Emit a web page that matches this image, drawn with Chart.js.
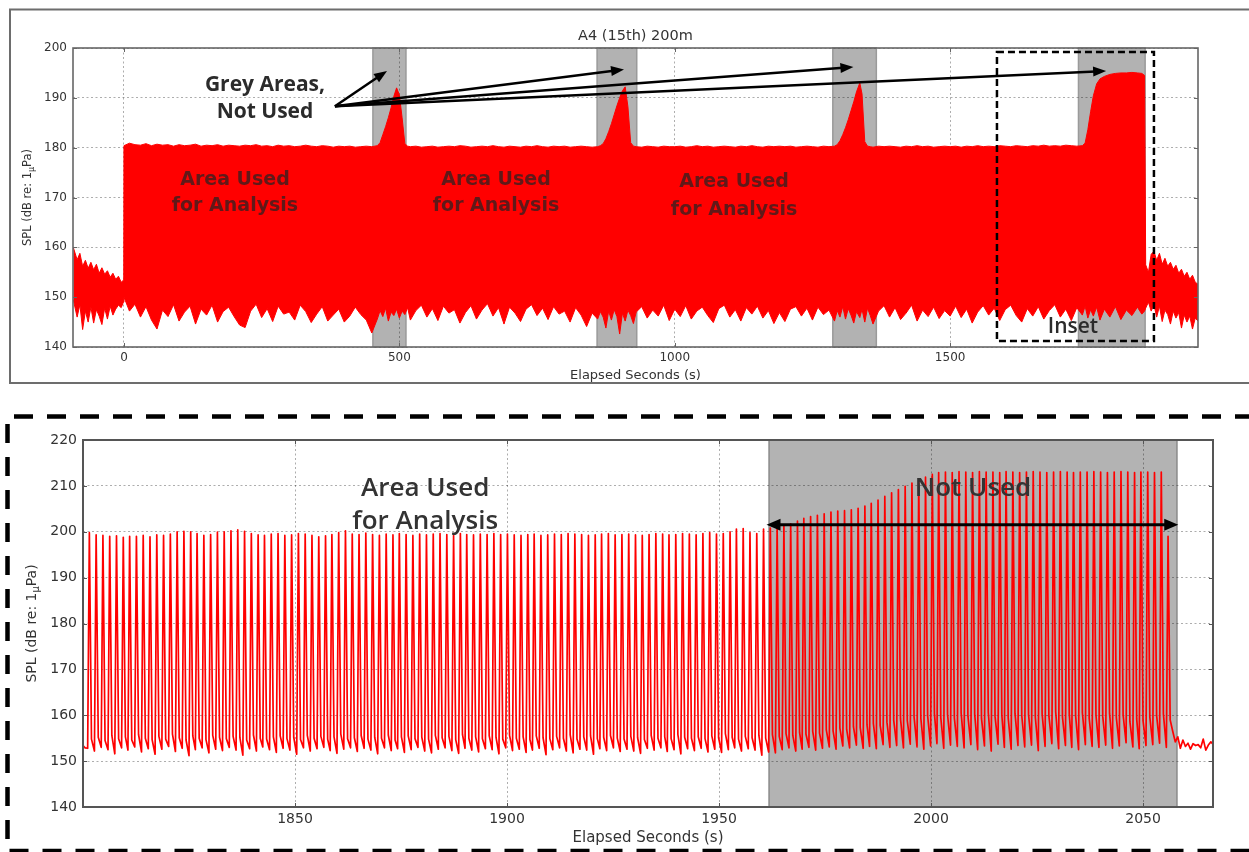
<!DOCTYPE html>
<html>
<head>
<meta charset="utf-8">
<title>A4 (15th) 200m</title>
<script src="https://cdn.jsdelivr.net/npm/chart.js@4.4.1/dist/chart.umd.min.js"></script>
<style>
  html, body { margin: 0; padding: 0; background: #fff; }
  body { width: 1249px; height: 852px; position: relative; overflow: hidden; }
  canvas { position: absolute; left: 0; }
  #overview { top: 0; }
  #detail { top: 400px; }
</style>
</head>
<body>
<canvas id="overview" width="1249" height="400"></canvas>
<canvas id="detail" width="1249" height="452"></canvas>
<script>
// ---------- Overview: SPL envelope over the whole record ----------
const ovXTicks = [0, 500, 1000, 1500];
const ovYTicks = [140, 150, 160, 170, 180, 190, 200];
const ovGreySpans = [[452, 512], [859, 931], [1287, 1366], [1733, 1854]];

const ovTime = [
  -92, -85, -80, -75, -70, -65, -60, -55, -50, -45, -40, -35, -30, -25, -20, -15, -10, -5, -1,
  0, 10, 20, 30, 40, 50, 60, 70, 80, 90,
  100, 110, 120, 130, 140, 150, 160, 170, 180, 190,
  200, 210, 220, 230, 240, 250, 260, 270, 280, 290,
  300, 310, 320, 330, 340, 350, 360, 370, 380, 390,
  400, 410, 420, 430, 440, 450,
  460, 465, 470, 475, 480, 485, 490, 495, 500, 505, 510, 515, 520,
  530, 540, 550, 560, 570, 580, 590,
  600, 610, 620, 630, 640, 650, 660, 670, 680, 690,
  700, 710, 720, 730, 740, 750, 760, 770, 780, 790,
  800, 810, 820, 830, 840, 850,
  860, 865, 870, 875, 880, 885, 890, 895, 900, 905, 910, 915, 920, 925, 930,
  940, 950, 960, 970, 980, 990,
  1000, 1010, 1020, 1030, 1040, 1050, 1060, 1070, 1080, 1090,
  1100, 1110, 1120, 1130, 1140, 1150, 1160, 1170, 1180, 1190,
  1200, 1210, 1220, 1230, 1240, 1250, 1260, 1270, 1280,
  1290, 1295, 1300, 1305, 1310, 1315, 1320, 1325, 1330, 1336, 1340, 1345, 1350, 1355,
  1360, 1370, 1380, 1390,
  1400, 1410, 1420, 1430, 1440, 1450, 1460, 1470, 1480, 1490,
  1500, 1510, 1520, 1530, 1540, 1550, 1560, 1570, 1580, 1590,
  1600, 1610, 1620, 1630, 1640, 1650, 1660, 1670, 1680, 1690,
  1700, 1710, 1720, 1730,
  1740, 1745, 1750, 1755, 1760, 1766, 1772, 1780, 1790, 1800, 1810, 1820, 1830, 1840, 1848, 1853,
  1855, 1860, 1865, 1870, 1875, 1880, 1885, 1890, 1895, 1900, 1905, 1910, 1915, 1920, 1925, 1930, 1935, 1940, 1945, 1950
];

// upper edge of the SPL trace (dB)
const ovHigh = [
  160.0, 157.5, 158.8, 156.2, 157.4, 155.8, 157.0, 155.5, 156.6, 154.8, 155.9, 154.6, 155.3, 154.0, 154.8, 153.6, 154.2, 153.0, 153.4,
  180.4, 180.9, 180.6, 180.5, 180.8, 180.4, 180.7, 180.5, 180.6, 180.3,
  180.6, 180.4, 180.5, 180.7, 180.3, 180.5, 180.4, 180.6, 180.3, 180.5,
  180.4, 180.3, 180.5, 180.4, 180.6, 180.3, 180.4, 180.2, 180.5, 180.3,
  180.4, 180.2, 180.3, 180.5, 180.3, 180.2, 180.4, 180.3, 180.1, 180.3,
  180.2, 180.3, 180.1, 180.2, 180.3, 180.2,
  180.4, 181.0, 182.6, 184.2, 186.0, 188.0, 190.3, 192.0, 190.6, 186.0, 180.8, 180.3, 180.2,
  180.3, 180.1, 180.2, 180.3, 180.1, 180.2, 180.3,
  180.2, 180.4, 180.3, 180.1, 180.2, 180.3, 180.2, 180.4, 180.2, 180.1,
  180.3, 180.2, 180.1, 180.3, 180.2, 180.4, 180.2, 180.1, 180.3, 180.2,
  180.3, 180.1, 180.2, 180.3, 180.2, 180.1,
  180.2, 180.4, 180.8, 181.8, 183.2, 184.8, 186.6, 188.4, 190.0, 191.4, 192.2, 188.2, 181.0, 180.3, 180.2,
  180.1, 180.3, 180.2, 180.1, 180.3, 180.2,
  180.2, 180.3, 180.1, 180.2, 180.4, 180.2, 180.3, 180.1, 180.2, 180.3,
  180.2, 180.1, 180.3, 180.2, 180.4, 180.2, 180.1, 180.3, 180.2, 180.3,
  180.2, 180.3, 180.1, 180.2, 180.3, 180.2, 180.1, 180.3, 180.2,
  180.3, 180.6, 181.4, 182.6, 184.0, 185.6, 187.4, 189.2, 191.2, 193.0, 190.8, 181.2, 180.3, 180.2,
  180.1, 180.3, 180.2, 180.3,
  180.2, 180.1, 180.3, 180.2, 180.4, 180.2, 180.3, 180.1, 180.2, 180.3,
  180.2, 180.3, 180.1, 180.3, 180.2, 180.4, 180.2, 180.3, 180.2, 180.4,
  180.3, 180.2, 180.4, 180.3, 180.2, 180.4, 180.3, 180.5, 180.3, 180.4,
  180.3, 180.5, 180.4, 180.3,
  180.4, 180.9, 183.6, 187.2, 190.4, 192.8, 193.8, 194.3, 194.7, 194.9, 195.0, 195.0, 195.1, 195.0, 194.9, 194.5,
  156.5, 155.0, 158.6, 159.2, 157.4, 158.8, 156.6, 157.8, 156.2, 157.0, 155.6, 156.4, 154.8, 155.6, 154.2, 155.0, 153.6, 154.4, 153.0, 152.6
];

// lower edge of the SPL trace (dB)
const ovLow = [
  149.5, 146.0, 148.5, 143.5, 147.2, 145.0, 148.0, 144.8, 147.5, 146.2, 144.5, 147.8, 145.6, 148.2, 146.4, 147.6, 148.4, 147.9, 149.0,
  150.0, 147.2, 148.6, 146.0, 148.1, 145.4, 143.6, 147.4, 146.1, 148.5,
  145.2, 147.0, 148.2, 144.6, 147.6, 146.4, 148.4, 145.0, 147.1, 148.0,
  146.1, 144.4, 143.9, 147.2, 148.6, 145.9, 147.7, 145.1, 148.2, 146.6,
  147.0, 145.4, 148.4, 147.1, 144.9, 146.6, 148.1, 145.2, 146.4, 147.6,
  145.0, 146.2, 148.0, 146.5, 145.4, 142.8,
  145.6, 147.3, 146.1, 147.8, 145.2, 147.0, 146.3, 147.6, 145.8, 147.2, 146.5, 147.9, 145.4,
  147.3, 148.4, 146.0, 147.7, 145.3, 148.2, 146.8,
  147.5, 144.8, 146.9, 148.3, 145.6, 147.4, 148.7, 146.2, 147.9, 144.6,
  148.0, 146.8, 145.1, 147.6, 148.5, 146.3, 147.8, 145.5, 148.1, 146.6,
  147.2, 145.0, 147.9, 146.4, 144.1, 146.8,
  145.6, 147.1, 146.0, 143.8, 147.2, 145.4, 147.5, 146.1, 142.6, 146.8, 145.2, 147.4, 146.3, 144.7, 147.0,
  148.1, 145.8, 147.4, 146.2, 148.4, 145.3,
  147.6, 146.1, 148.3, 145.6, 147.2, 148.0, 146.3, 144.9, 147.7, 148.4,
  146.0, 147.5, 145.2, 147.9, 146.6, 148.2, 145.8, 147.3, 144.7, 146.9,
  145.1, 147.6, 148.1, 146.2, 147.8, 145.4, 148.0, 146.5, 147.4,
  145.2, 147.3, 146.0, 148.1, 145.6, 147.7, 146.4, 144.8, 147.1, 145.9, 147.6, 145.0, 147.8, 146.3,
  144.6, 147.2, 148.3, 146.0,
  147.9, 145.5, 146.8, 148.4, 145.2, 147.4, 146.1, 148.0, 145.7, 147.3,
  146.2, 148.2, 145.9, 147.6, 144.8, 147.0, 148.3, 146.4, 147.8, 145.3,
  147.5, 148.4, 146.3, 145.0, 147.7, 146.2, 148.1, 145.6, 147.3, 148.5,
  146.0, 147.6, 145.3, 147.9,
  146.4, 148.2, 145.8, 147.5, 146.2, 148.0, 145.4, 147.6, 146.0, 148.1, 145.5, 147.4, 146.3, 148.0, 146.6, 147.2,
  147.8, 149.0, 147.2, 148.5, 146.0, 148.2, 145.1, 147.4, 146.5, 144.6, 147.2, 145.8, 146.9, 143.8, 146.4, 145.0, 146.2, 143.6, 145.8, 145.2
];

// ---------- Detail: individual pulses near the end of the record ----------
const dtXTicks = [1850, 1900, 1950, 2000, 2050];
const dtYTicks = [140, 150, 160, 170, 180, 190, 200, 210, 220];
const dtGreySpans = [[1961.8, 2058]];

const pulseTime = [
  1801.5, 1803.1, 1804.7, 1806.3, 1807.9, 1809.5, 1811.0, 1812.6, 1814.2, 1815.8,
  1817.4, 1819.0, 1820.6, 1822.2, 1823.8, 1825.4, 1826.9, 1828.5, 1830.1, 1831.7,
  1833.3, 1834.9, 1836.5, 1838.1, 1839.7, 1841.3, 1842.8, 1844.4, 1846.0, 1847.6,
  1849.2, 1850.8, 1852.4, 1854.0, 1855.6, 1857.2, 1858.7, 1860.3, 1861.9, 1863.5,
  1865.1, 1866.7, 1868.3, 1869.9, 1871.5, 1873.1, 1874.6, 1876.2, 1877.8, 1879.4,
  1881.0, 1882.6, 1884.2, 1885.8, 1887.4, 1889.0, 1890.5, 1892.1, 1893.7, 1895.3,
  1896.9, 1898.5, 1900.1, 1901.7, 1903.3, 1904.9, 1906.4, 1908.0, 1909.6, 1911.2,
  1912.8, 1914.4, 1916.0, 1917.6, 1919.2, 1920.8, 1922.3, 1923.9, 1925.5, 1927.1,
  1928.7, 1930.3, 1931.9, 1933.5, 1935.1, 1936.7, 1938.2, 1939.8, 1941.4, 1943.0,
  1944.6, 1946.2, 1947.8, 1949.4, 1951.0, 1952.6, 1954.1, 1955.7, 1957.3, 1958.9,
  1960.5, 1962.1, 1963.7, 1965.3, 1966.9, 1968.5, 1970.0, 1971.6, 1973.2, 1974.8,
  1976.4, 1978.0, 1979.6, 1981.2, 1982.8, 1984.4, 1985.9, 1987.5, 1989.1, 1990.7,
  1992.3, 1993.9, 1995.5, 1997.1, 1998.7, 2000.3, 2001.8, 2003.4, 2005.0, 2006.6,
  2008.2, 2009.8, 2011.4, 2013.0, 2014.6, 2016.2, 2017.7, 2019.3, 2020.9, 2022.5,
  2024.1, 2025.7, 2027.3, 2028.9, 2030.5, 2032.1, 2033.6, 2035.2, 2036.8, 2038.4,
  2040.0, 2041.6, 2043.2, 2044.8, 2046.4, 2048.0, 2049.5, 2051.1, 2052.7, 2054.3,
  2055.9
];

// pulse maximum (dB)
const pulsePeak = [
  199.8, 199.3, 199.2, 199.0, 199.1, 198.8, 199.0, 199.0, 199.2, 198.9,
  199.3, 199.2, 199.5, 200.0, 200.1, 200.0, 199.6, 199.2, 199.4, 199.9,
  200.0, 200.2, 200.4, 200.1, 199.6, 199.3, 199.2, 199.5, 199.6, 199.2,
  199.3, 199.6, 199.5, 199.2, 198.9, 199.1, 199.4, 199.8, 200.2, 199.5,
  199.4, 199.7, 199.4, 199.2, 199.5, 199.3, 199.6, 199.4, 199.2, 199.5,
  199.3, 199.5, 199.6, 199.4, 199.2, 199.6, 199.4, 199.3, 199.5, 199.4,
  199.6, 199.4, 199.5, 199.3, 199.2, 199.4, 199.5, 199.2, 199.3, 199.5,
  199.4, 199.6, 199.5, 199.4, 199.2, 199.3, 199.5, 199.6, 199.3, 199.4,
  199.5, 199.3, 199.2, 199.4, 199.6, 199.5, 199.3, 199.4, 199.6, 199.5,
  199.3, 199.6, 199.8, 199.5, 199.6, 200.0, 200.6, 200.7, 199.8, 199.6,
  200.6, 200.8, 201.0, 201.3, 201.7, 202.3, 202.9, 203.3, 203.6, 203.9,
  204.3, 204.5, 204.6, 204.8, 205.1, 205.6, 206.2, 206.9, 207.7, 208.5,
  209.2, 209.9, 210.6, 211.3, 211.9, 212.5, 212.9, 213.0, 212.9, 213.1,
  213.0, 212.9, 213.1, 213.0, 213.0, 212.9, 213.1, 213.0, 212.9, 213.0,
  213.1, 213.0, 212.9, 213.0, 213.1, 213.0, 212.9, 213.0, 213.0, 213.1,
  213.0, 212.9, 213.0, 213.1, 213.0, 212.9, 213.0, 213.0, 212.9, 213.0,
  199.0
];

// level just after each pulse decays (dB)
const pulseShoulder = [
  154.8, 155.2, 154.5, 155.6, 154.9, 155.3, 154.6, 155.8, 155.0, 154.7,
  155.4, 154.8, 155.9, 155.1, 154.6, 155.5, 155.0, 154.7, 155.6, 155.2,
  154.9, 155.4, 155.1, 154.6, 155.7, 155.0, 154.8, 155.3, 155.5, 154.9,
  155.2, 154.7, 155.6, 155.0, 155.4, 154.8, 155.3, 155.9, 154.9, 155.1,
  155.6, 154.8, 155.2, 155.0, 155.7, 154.6, 155.3, 155.5, 154.9, 155.2,
  154.8, 155.6, 155.1, 155.4, 154.7, 155.8, 155.0, 155.3, 154.9, 155.5,
  155.2, 154.8, 155.6, 155.0, 155.3, 154.7, 155.5, 155.1, 154.9, 155.4,
  155.0, 155.7, 154.8, 155.3, 155.5, 154.9, 155.2, 155.6, 155.0, 154.8,
  155.4, 155.1, 154.7, 155.6, 155.0, 155.3, 154.9, 155.8, 155.2, 155.0,
  155.3, 154.9, 155.5, 155.1, 156.0, 155.2, 154.8, 155.4, 155.1, 155.6,
  155.0, 155.8, 155.4, 156.0, 155.6, 156.2, 155.9, 156.5, 156.1, 156.8,
  156.6, 157.2, 156.9, 157.5, 157.3, 157.9, 158.2, 157.8, 158.5, 158.9,
  159.2, 158.8, 159.6, 159.3, 159.9, 160.3, 159.5, 160.1, 159.4, 160.5,
  159.8, 160.2, 159.3, 160.6, 159.7, 160.0, 159.4, 160.4, 159.9, 160.1,
  159.5, 160.3, 159.8, 160.7, 159.6, 160.2, 159.9, 160.5, 159.3, 160.0,
  159.7, 160.4, 159.5, 160.1, 158.6, 159.2, 158.8, 159.6, 159.9, 160.3,
  159.0
];

// minimum reached before each pulse (dB)
const pulseTrough = [
  152.8, 152.2, 153.0, 152.5, 151.6, 152.9, 152.4, 153.1, 152.0, 152.7,
  151.5, 152.6, 153.2, 152.1, 152.8, 151.2, 152.5, 152.9, 151.8, 152.6,
  152.3, 153.0, 152.4, 151.3, 152.7, 152.2, 153.1, 152.5, 151.9, 152.8,
  152.4, 151.5, 152.9, 152.2, 152.7, 153.0, 152.3, 151.7, 152.6, 152.9,
  152.1, 152.8, 152.4, 151.6, 152.9, 152.3, 152.7, 151.9, 152.5, 153.0,
  152.2, 151.8, 152.6, 152.9, 152.3, 151.7, 152.8, 152.4, 152.0, 152.7,
  152.5, 151.6, 152.9, 152.3, 152.6, 151.9, 152.4, 152.8, 151.4, 152.5,
  152.9, 152.2, 151.8, 152.6, 152.4, 151.5, 152.7, 152.3, 152.9, 152.1,
  152.6, 152.2, 151.7, 152.8, 152.4, 152.9, 152.1, 152.5, 151.6, 152.7,
  152.3, 152.8, 152.0, 152.6, 151.9, 152.5, 152.9, 152.2, 152.7, 152.4,
  151.3, 152.0, 151.8, 152.5, 152.9, 152.2, 152.6, 153.0, 152.4, 152.8,
  153.1, 152.6, 153.3, 152.9, 153.5, 152.8, 153.2, 152.7, 153.6, 153.0,
  153.4, 152.9, 153.7, 153.1, 152.6, 153.3, 153.8, 152.8, 153.5, 153.2,
  152.9, 153.6, 152.5, 153.3, 152.2, 153.7, 153.0, 152.6, 153.4, 153.1,
  153.5, 152.3, 153.2, 153.8, 152.7, 153.4, 153.0, 152.5, 153.6, 153.2,
  153.0, 153.5, 152.8, 153.3, 154.0, 153.1, 152.7, 153.4, 153.6, 153.9,
  153.0
];

// quiet segments before the first pulse and after the last one
const leadTime = [1800.0, 1800.5];
const leadLevel = [153.4, 152.9];
const tailTime = [2057.0, 2057.6, 2058.2, 2058.8, 2059.4, 2060.0, 2060.6, 2061.2, 2061.8, 2062.4, 2063.0, 2063.6, 2064.2, 2064.8, 2065.4, 2066.0, 2066.5];
const tailLevel = [156.5, 154.2, 155.3, 152.8, 154.6, 153.2, 153.9, 152.6, 153.8, 153.4, 153.6, 152.9, 154.8, 152.4, 153.5, 154.2, 153.7];

// ---------- building the point lists ----------
const ovHighPts = ovTime.map((t, i) => ({ x: t, y: ovHigh[i] }));
const ovLowPts = ovTime.map((t, i) => ({ x: t, y: ovLow[i] }));

const RISE = 0.4;    // seconds from trough to pulse top
const DECAY = 0.5;   // seconds from pulse top to shoulder
const dtPts = [];
leadTime.forEach((t, i) => dtPts.push({ x: t, y: leadLevel[i] }));
pulseTime.forEach((t, i) => {
  dtPts.push({ x: t - RISE, y: pulseTrough[i] });
  dtPts.push({ x: t, y: pulsePeak[i] });
  dtPts.push({ x: t + DECAY, y: pulseShoulder[i] });
});
tailTime.forEach((t, i) => dtPts.push({ x: t, y: tailLevel[i] }));

// ---------- shared drawing helpers ----------
const FONT = '"DejaVu Sans", sans-serif';
const RED = '#ff0000';

function arrowHead(ctx, tx, ty, ang, len, half) {
  const bx = tx - len * Math.cos(ang), by = ty - len * Math.sin(ang);
  ctx.beginPath();
  ctx.moveTo(tx, ty);
  ctx.lineTo(bx + half * Math.sin(ang), by - half * Math.cos(ang));
  ctx.lineTo(bx - half * Math.sin(ang), by + half * Math.cos(ang));
  ctx.closePath();
  ctx.fill();
}

function drawArrow(ctx, x1, y1, x2, y2, a) {
  const ang = Math.atan2(y2 - y1, x2 - x1);
  const sx = a.both ? x1 + a.head * 0.8 * Math.cos(ang) : x1;
  const sy = a.both ? y1 + a.head * 0.8 * Math.sin(ang) : y1;
  ctx.strokeStyle = '#000';
  ctx.fillStyle = '#000';
  ctx.lineWidth = a.width;
  ctx.lineCap = 'butt';
  ctx.beginPath();
  ctx.moveTo(sx, sy);
  ctx.lineTo(x2 - a.head * 0.8 * Math.cos(ang), y2 - a.head * 0.8 * Math.sin(ang));
  ctx.stroke();
  arrowHead(ctx, x2, y2, ang, a.head, a.half);
  if (a.both) arrowHead(ctx, x1, y1, ang + Math.PI, a.head, a.half);
}

// grey "not used" bands, painted before the grid so the grid stays visible on them
const bandsPlugin = {
  id: 'bands',
  beforeDraw(chart, args, opts) {
    const { ctx, chartArea: a, scales: { x } } = chart;
    ctx.save();
    opts.spans.forEach(([s, e]) => {
      const x0 = Math.max(x.getPixelForValue(s), a.left);
      const x1 = Math.min(x.getPixelForValue(e), a.right);
      ctx.fillStyle = opts.fill;
      ctx.fillRect(x0, a.top, x1 - x0, a.height);
      ctx.strokeStyle = opts.edge;
      ctx.lineWidth = 1.5;
      ctx.strokeRect(x0, a.top, x1 - x0, a.height);
    });
    ctx.restore();
  }
};

// plot frame with matplotlib-style inward ticks
const framePlugin = {
  id: 'frame',
  afterDatasetsDraw(chart, args, opts) {
    const { ctx, chartArea: a, scales: { x, y } } = chart;
    ctx.save();
    ctx.strokeStyle = opts.color;
    ctx.lineWidth = 1;
    ctx.beginPath();
    x.ticks.forEach(t => {
      const p = Math.round(x.getPixelForValue(t.value)) + 0.5;
      ctx.moveTo(p, a.bottom); ctx.lineTo(p, a.bottom - opts.len);
      ctx.moveTo(p, a.top); ctx.lineTo(p, a.top + opts.len);
    });
    y.ticks.forEach(t => {
      const p = Math.round(y.getPixelForValue(t.value)) + 0.5;
      ctx.moveTo(a.left, p); ctx.lineTo(a.left + opts.len, p);
      ctx.moveTo(a.right, p); ctx.lineTo(a.right - opts.len, p);
    });
    ctx.stroke();
    ctx.lineWidth = opts.width;
    ctx.strokeRect(a.left, a.top, a.width, a.height);
    ctx.restore();
  }
};

// labels, arrows and outline boxes placed in data coordinates
const notesPlugin = {
  id: 'notes',
  afterDatasetsDraw(chart, args, opts) {
    const { ctx, scales: { x, y } } = chart;
    const X = v => x.getPixelForValue(v), Y = v => y.getPixelForValue(v);
    ctx.save();
    (opts.boxes || []).forEach(b => {
      ctx.strokeStyle = '#000';
      ctx.lineWidth = b.width;
      ctx.setLineDash(b.dash);
      ctx.strokeRect(X(b.x0), Y(b.y1), X(b.x1) - X(b.x0), Y(b.y0) - Y(b.y1));
      ctx.setLineDash([]);
    });
    (opts.arrows || []).forEach(a => drawArrow(ctx, X(a.from[0]), Y(a.from[1]), X(a.to[0]), Y(a.to[1]), a));
    (opts.texts || []).forEach(t => {
      ctx.font = t.font;
      ctx.fillStyle = t.color;
      ctx.textAlign = 'center';
      ctx.textBaseline = 'middle';
      t.lines.forEach((line, i) => ctx.fillText(line, X(t.x), Y(t.y[i])));
    });
    ctx.restore();
  }
};

// chart title and the y-axis title with its subscript unit
const titlesPlugin = {
  id: 'titles',
  afterDraw(chart, args, opts) {
    const { ctx, chartArea: a } = chart;
    ctx.save();
    ctx.fillStyle = '#333';
    if (opts.title) {
      ctx.font = `${opts.title.size}px ${FONT}`;
      ctx.textAlign = 'center';
      ctx.textBaseline = 'middle';
      ctx.fillText(opts.title.text, (a.left + a.right) / 2, a.top - opts.title.gap);
    }
    const s = opts.ySize;
    const parts = [
      ['SPL (dB re: 1', `${s}px ${FONT}`, 0],
      ['\u03bc', `${(s * 0.7).toFixed(1)}px ${FONT}`, s * 0.3],
      ['Pa)', `${s}px ${FONT}`, 0]
    ];
    let total = 0;
    parts.forEach(p => { ctx.font = p[1]; total += ctx.measureText(p[0]).width; });
    ctx.translate(opts.yX, (a.top + a.bottom) / 2);
    ctx.rotate(-Math.PI / 2);
    ctx.textAlign = 'left';
    ctx.textBaseline = 'middle';
    let cx = -total / 2;
    parts.forEach(p => {
      ctx.font = p[1];
      ctx.fillText(p[0], cx, p[2]);
      cx += ctx.measureText(p[0]).width;
    });
    ctx.restore();
  }
};

// outlines around each panel
const panelPlugin = {
  id: 'panel',
  afterDraw(chart, args, opts) {
    const { ctx, width } = chart;
    ctx.save();
    ctx.strokeStyle = opts.color;
    ctx.lineWidth = opts.width;
    ctx.setLineDash(opts.dash || []);
    ctx.beginPath();
    ctx.moveTo(width + 5, opts.top);
    ctx.lineTo(opts.left, opts.top);
    ctx.lineTo(opts.left, opts.bottom);
    ctx.lineTo(width + 5, opts.bottom);
    ctx.stroke();
    ctx.restore();
  }
};

function axisConfig(ticks, size, min, max, pad, isX, fit, title) {
  return {
    type: 'linear',
    min, max,
    afterBuildTicks: sc => { sc.ticks = ticks.map(v => ({ value: v })); },
    afterFit: sc => { if (isX) sc.height = fit; else sc.width = fit; },
    ticks: { font: { family: FONT, size }, color: '#333', padding: pad, maxRotation: 0, autoSkip: false, callback: v => String(v) },
    grid: { color: 'rgba(0,0,0,0.32)', lineWidth: 1, drawTicks: false },
    border: { display: false, dash: [2, 2.5] },
    title: title ? { display: true, text: title.text, color: '#333', font: { family: FONT, size: title.size }, padding: { top: 4, bottom: 4 } } : { display: false }
  };
}

Chart.defaults.animation = false;

// ---------- overview chart ----------
new Chart(document.getElementById('overview'), {
  type: 'line',
  data: {
    datasets: [
      { data: ovHighPts, borderColor: RED, borderWidth: 1, pointRadius: 0, tension: 0, fill: false },
      { data: ovLowPts, borderColor: RED, borderWidth: 1, pointRadius: 0, tension: 0, fill: '-1', backgroundColor: RED }
    ]
  },
  options: {
    responsive: false,
    devicePixelRatio: 1,
    events: [],
    layout: { padding: { left: 18, right: 51, top: 48, bottom: 12.2 } },
    scales: {
      x: axisConfig(ovXTicks, 12, -92.5, 1950, 4, true, 40.8, { text: 'Elapsed Seconds (s)', size: 13 }),
      y: axisConfig(ovYTicks, 12, 140, 200, 6, false, 55, null)
    },
    plugins: {
      legend: { display: false },
      tooltip: { enabled: false },
      bands: { spans: ovGreySpans, fill: '#b2b2b2', edge: '#9a9a9a' },
      frame: { color: '#666', width: 1.6, len: 4 },
      titles: { title: { text: 'A4 (15th) 200m', size: 14.5, gap: 11.5 }, ySize: 11.5, yX: 28 },
      panel: { color: '#6d6d6d', width: 2, left: 10, top: 9.5, bottom: 383 },
      notes: {
        boxes: [{ x0: 1585, x1: 1870, y0: 141.2, y1: 199.2, width: 2.5, dash: [7, 4] }],
        arrows: [
          { from: [383, 188.3], to: [477.6, 195.4], width: 2.5, head: 13, half: 5 },
          { from: [383, 188.3], to: [907.9, 195.7], width: 2.5, head: 13, half: 5 },
          { from: [383, 188.3], to: [1324.4, 196.2], width: 2.5, head: 13, half: 5 },
          { from: [383, 188.3], to: [1783.2, 195.4], width: 2.5, head: 13, half: 5 }
        ],
        texts: [
          { x: 256, y: [192.6, 187.1], lines: ['Grey Areas,', 'Not Used'], font: 'bold 21px "Open Sans", sans-serif', color: '#2b2b2b' },
          { x: 201.6, y: [173.5, 168.3], lines: ['Area Used', 'for Analysis'], font: `bold 19px ${FONT}`, color: 'rgba(35,35,35,0.72)' },
          { x: 675.5, y: [173.5, 168.3], lines: ['Area Used', 'for Analysis'], font: `bold 19px ${FONT}`, color: 'rgba(35,35,35,0.72)' },
          { x: 1107.7, y: [173.0, 167.5], lines: ['Area Used', 'for Analysis'], font: `bold 19px ${FONT}`, color: 'rgba(35,35,35,0.72)' },
          { x: 1723, y: [144], lines: ['Inset'], font: '600 21px "Open Sans", sans-serif', color: '#2b2b2b' }
        ]
      }
    }
  },
  plugins: [bandsPlugin, framePlugin, notesPlugin, titlesPlugin, panelPlugin]
});

// ---------- detail chart ----------
new Chart(document.getElementById('detail'), {
  type: 'line',
  data: {
    datasets: [
      { data: dtPts, borderColor: RED, borderWidth: 1.7, pointRadius: 0, tension: 0, fill: false, borderJoinStyle: 'round' }
    ]
  },
  options: {
    responsive: false,
    devicePixelRatio: 1,
    events: [],
    layout: { padding: { left: 20, right: 36, top: 40, bottom: 1 } },
    scales: {
      x: axisConfig(dtXTicks, 14, 1800, 2066.5, 4, true, 44, { text: 'Elapsed Seconds (s)', size: 15 }),
      y: axisConfig(dtYTicks, 14, 140, 220, 6, false, 63, null)
    },
    plugins: {
      legend: { display: false },
      tooltip: { enabled: false },
      bands: { spans: dtGreySpans, fill: '#b3b3b3', edge: '#8a8a8a' },
      frame: { color: '#555', width: 2, len: 4 },
      titles: { ySize: 14, yX: 32 },
      panel: { color: '#000', width: 4.5, dash: [19, 14], left: 7.5, top: 16.5, bottom: 451 },
      notes: {
        arrows: [
          { from: [1961.2, 201.5], to: [2058.3, 201.5], width: 3, head: 14, half: 6, both: true }
        ],
        texts: [
          { x: 1880.7, y: [209.3, 202.3], lines: ['Area Used', 'for Analysis'], font: '600 26px "Open Sans", sans-serif', color: '#333' },
          { x: 2009.9, y: [209.5], lines: ['Not Used'], font: '600 26px "Open Sans", sans-serif', color: '#333' }
        ]
      }
    }
  },
  plugins: [bandsPlugin, framePlugin, notesPlugin, titlesPlugin, panelPlugin]
});
</script>
</body>
</html>
